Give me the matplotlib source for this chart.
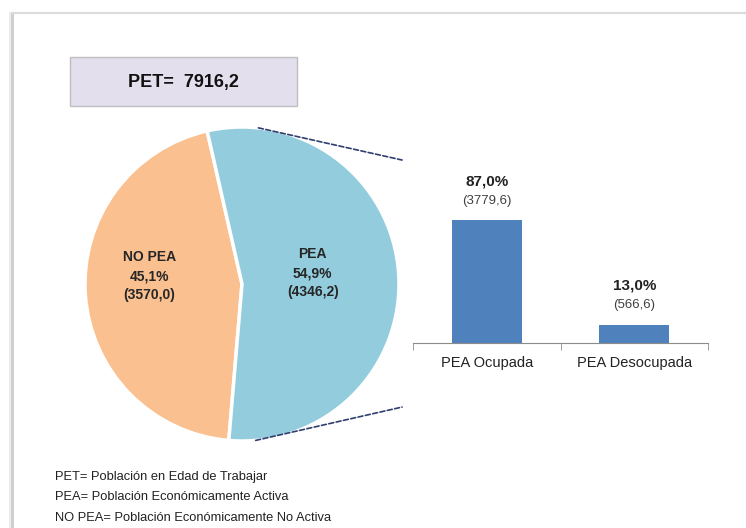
import matplotlib.pyplot as plt
from matplotlib.patches import Rectangle, ConnectionPatch
from matplotlib.lines import Line2D
import numpy as np

plt.rcParams['font.family'] = ['Liberation Sans', 'DejaVu Sans']

# data
pet_total = 7916.2
pie_labels = ['NO PEA', 'PEA']
pie_values = [3570.0, 4346.2]
pie_pct = [45.1, 54.9]
pie_colors = ['#FAC090', '#93CDDD']

bar_labels = ['PEA Ocupada', 'PEA Desocupada']
bar_pct = [87.0, 13.0]
bar_values = [3779.6, 566.6]
bar_color = '#4F81BD'

notes = ['PET= Población en Edad de Trabajar',
         'PEA= Población Económicamente Activa',
         'NO PEA= Población Económicamente No Activa']

W, H = 746, 528


def fmt(v, d=1):
    return f'{v:.{d}f}'.replace('.', ',')


def fx(x):
    return x / W


def fy(y):
    return 1 - y / H


fig = plt.figure(figsize=(W / 100, H / 100), dpi=100)

# frame of the screenshot
fig.add_artist(Line2D([fx(12), fx(12)], [fy(13), 0], color='#cfcfcf', lw=2.2))
fig.add_artist(Line2D([fx(12), 1], [fy(13), fy(13)], color='#dcdcdc', lw=1.6))
fig.add_artist(Line2D([fx(10), fx(10)], [fy(13), 0], color='#ececec', lw=1.5))

# PET box
fig.add_artist(Rectangle((fx(70), fy(106)), fx(297) - fx(70), fy(57) - fy(106),
                         transform=fig.transFigure, facecolor='#E4DFEC',
                         edgecolor='#BFBFBF', lw=1))
fig.text(fx(183), fy(82), 'PET=  ' + fmt(pet_total), ha='center', va='center',
         fontsize=13, fontweight='bold', color='#111111')

# pie
cx, cy, r = 242, 284, 157
pad = 1.03
ax_pie = fig.add_axes([fx(cx - r * pad), fy(cy + r * pad), 2 * r * pad / W, 2 * r * pad / H])
span = 360 * pie_values[0] / sum(pie_values)
wedges, _ = ax_pie.pie(pie_values, colors=pie_colors, startangle=184 - span / 2,
                       counterclock=True,
                       wedgeprops=dict(edgecolor='white', linewidth=2.5))
ax_pie.set_xlim(-pad, pad)
ax_pie.set_ylim(-pad, pad)
ax_pie.set_aspect('equal')
ax_pie.axis('off')

ax_pie.text(-0.59, 0.05, f'{pie_labels[0]}\n{fmt(pie_pct[0])}%\n({fmt(pie_values[0])})',
            ha='center', va='center', fontsize=10, fontweight='bold',
            color='#262626', linespacing=1.45)
ax_pie.text(0.45, 0.07, f'{pie_labels[1]}\n{fmt(pie_pct[1])}%\n({fmt(pie_values[1])})',
            ha='center', va='center', fontsize=10, fontweight='bold',
            color='#262626', linespacing=1.45)

# bars
ax_bar = fig.add_axes([fx(413), fy(343), 295 / W, 141.4 / H])
x = np.arange(len(bar_labels))
ax_bar.bar(x, bar_pct, width=0.475, color=bar_color)
ax_bar.set_xlim(-0.5, 1.5)
ax_bar.set_ylim(0, 100)
for s in ['top', 'right', 'left']:
    ax_bar.spines[s].set_visible(False)
ax_bar.spines['bottom'].set_color('#8c8c8c')
ax_bar.set_yticks([])
ax_bar.set_xticks(x)
ax_bar.set_xticklabels(bar_labels, fontsize=10.5, color='#222222')
ax_bar.tick_params(axis='x', which='major', length=0, pad=9)
ax_bar.set_xticks([-0.5, 0.5, 1.5], minor=True)
ax_bar.tick_params(axis='x', which='minor', length=5, color='#8c8c8c')

for xi, p, v in zip(x, bar_pct, bar_values):
    ax_bar.annotate(f'{fmt(p)}%', (xi, p), xytext=(0, 28), textcoords='offset points',
                    ha='center', va='center', fontsize=11, fontweight='bold',
                    color='#222222', annotation_clip=False)
    ax_bar.annotate(f'({fmt(v)})', (xi, p), xytext=(0, 14), textcoords='offset points',
                    ha='center', va='center', fontsize=9.5, color='#404040',
                    annotation_clip=False)

# connector lines between pie and bars
for ang, yb in [(84, 1.294), (-85, -0.453)]:
    t = np.deg2rad(ang)
    con = ConnectionPatch(xyA=(np.cos(t), np.sin(t)), coordsA=ax_pie.transData,
                          xyB=(-0.037, yb), coordsB=ax_bar.transAxes,
                          color='#2F3E6E', lw=1.2, linestyle=(0, (3, 1.5)))
    fig.add_artist(con)

# footnotes
for i, n in enumerate(notes):
    fig.text(fx(55), fy(477 + 20.5 * i), n, ha='left', va='center', fontsize=9.3,
             color='#222222')

fig.savefig('out.png', dpi=100, facecolor='white')
